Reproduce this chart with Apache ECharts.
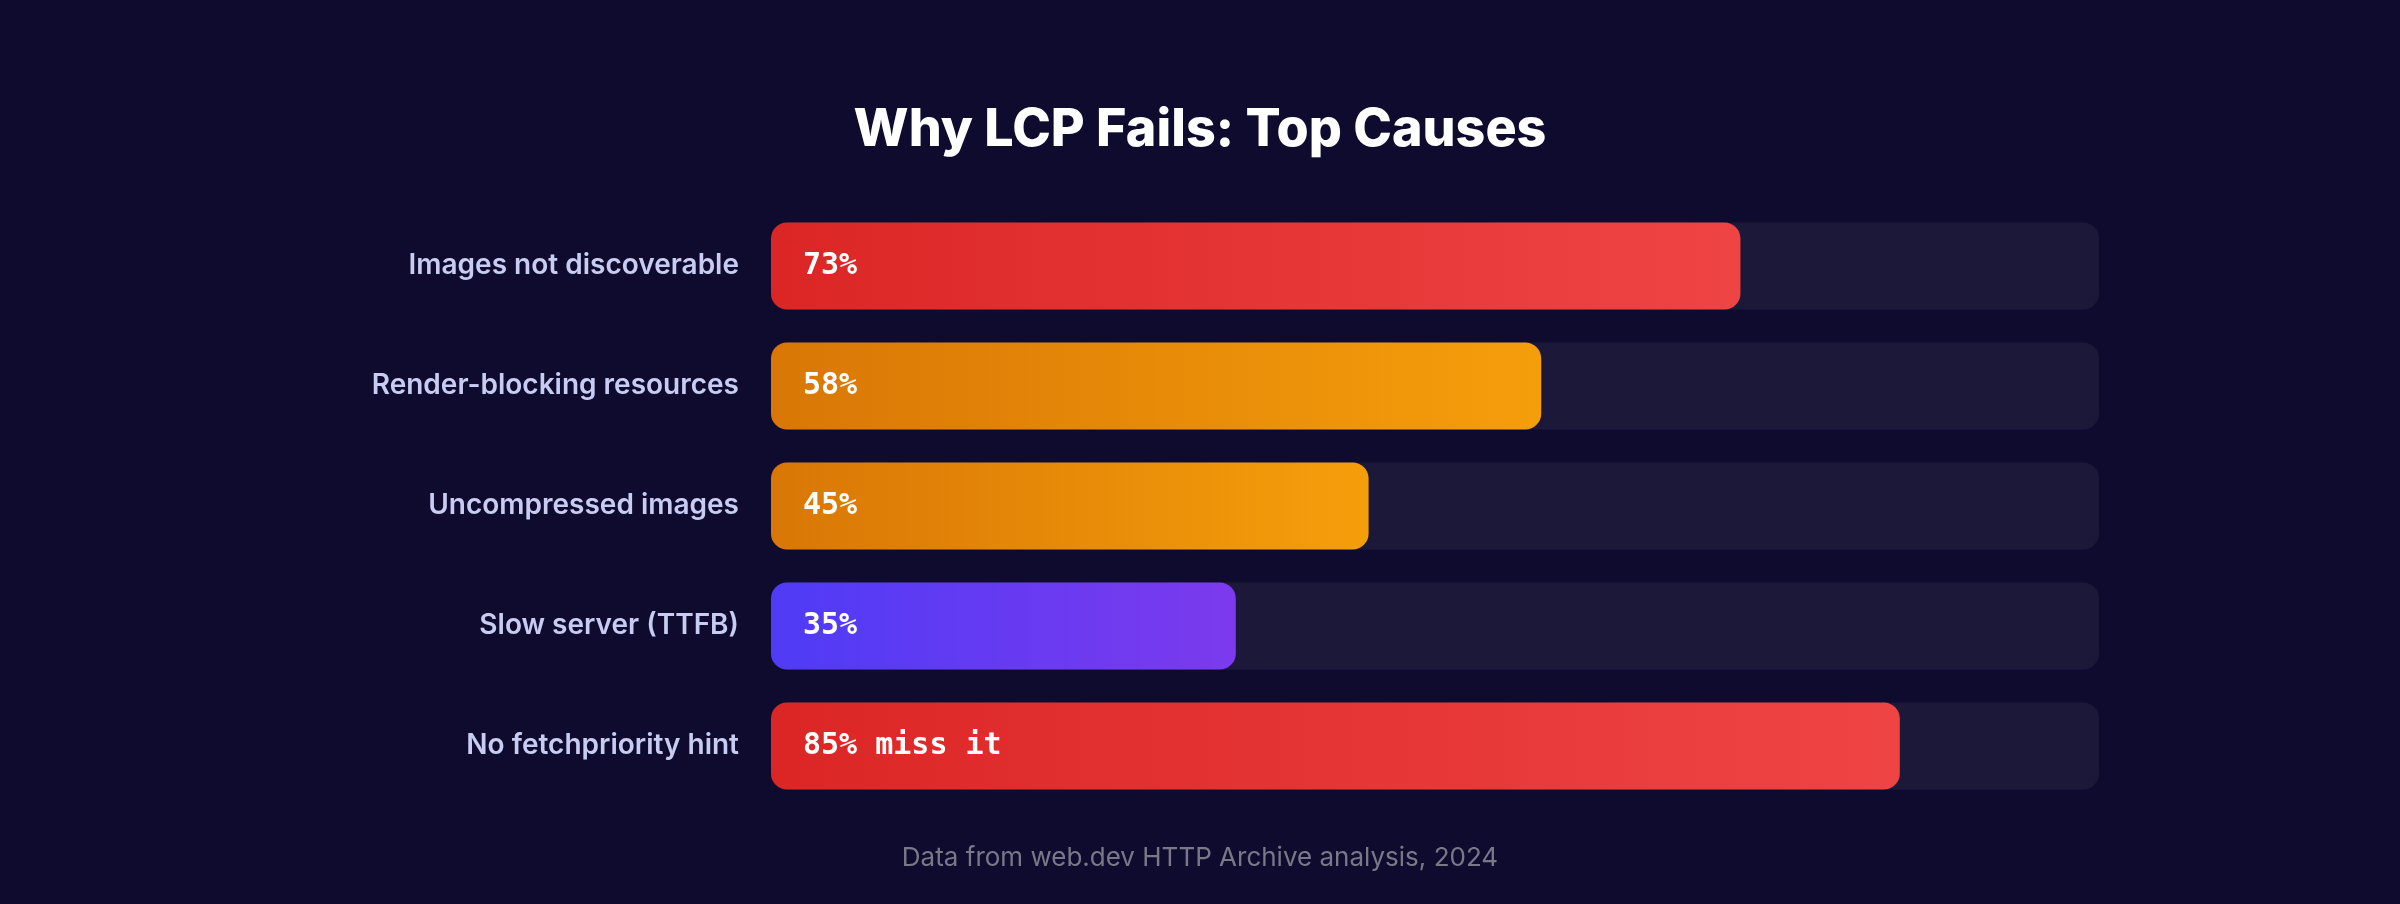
<!DOCTYPE html>
<html style="height: 100%">
<head>
    <meta charset="utf-8">
</head>
<body style="height: 100%; margin: 0; background-color: #0f0b2e">
<div id="container" style="height: 904px; width: 2400px"></div>
<script type="text/javascript" src="https://cdn.jsdelivr.net/npm/echarts@6/dist/echarts.min.js"></script>
<script type="text/javascript">
    var categories = ['Images not discoverable', 'Render-blocking resources', 'Uncompressed images', 'Slow server (TTFB)', 'No fetchpriority hint'];
    var values = [73, 58, 45, 35, 85];
    var valueLabels = ['73%', '58%', '45%', '35%', '85% miss it'];

    // gradient start/end for each bar
    var gradients = [
        ['#dc2626', '#ef4444'],
        ['#d97706', '#f59e0b'],
        ['#d97706', '#f59e0b'],
        ['#4f3bf6', '#7c3aed'],
        ['#dc2626', '#ef4444']
    ];

    var dom = document.getElementById('container');
    var myChart = echarts.init(dom);

    var barData = values.map(function (v, i) {
        return {
            value: v,
            itemStyle: {
                color: new echarts.graphic.LinearGradient(0, 0, 1, 0, [
                    { offset: 0, color: gradients[i][0] },
                    { offset: 1, color: gradients[i][1] }
                ])
            },
            label: { formatter: valueLabels[i] }
        };
    });

    var option = {
        backgroundColor: '#0f0b2e',
        animation: false,
        title: [{
            text: 'Why LCP Fails: Top Causes',
            left: 'center',
            top: 99,
            textStyle: {
                color: '#ffffff',
                fontFamily: 'Inter',
                fontWeight: 800,
                fontSize: 52
            }
        }, {
            text: 'Data from web.dev HTTP Archive analysis, 2024',
            left: 'center',
            top: 840,
            textStyle: {
                color: '#7a7888',
                fontFamily: 'Inter',
                fontWeight: 400,
                fontSize: 26
            }
        }],
        grid: {
            left: 771,
            right: 301,
            top: 206,
            height: 600
        },
        xAxis: {
            type: 'value',
            min: 0,
            max: 100,
            show: false
        },
        yAxis: {
            type: 'category',
            data: categories,
            inverse: true,
            axisLine: { show: false },
            axisTick: { show: false },
            axisLabel: {
                color: '#c8ccf2',
                fontFamily: 'Inter',
                fontWeight: 600,
                fontSize: 28,
                margin: 32,
                padding: [10, 0, 0, 0]
            }
        },
        series: [{
            type: 'bar',
            data: barData,
            barWidth: 87,
            showBackground: true,
            backgroundStyle: {
                color: '#1c1839',
                borderRadius: 16
            },
            itemStyle: {
                borderRadius: 16
            },
            label: {
                show: true,
                position: 'insideLeft',
                distance: 32,
                color: '#ffffff',
                fontFamily: 'DejaVu Sans Mono',
                fontWeight: 'bold',
                fontSize: 30
            }
        }]
    };

    myChart.setOption(option);
</script>
</body>
</html>
